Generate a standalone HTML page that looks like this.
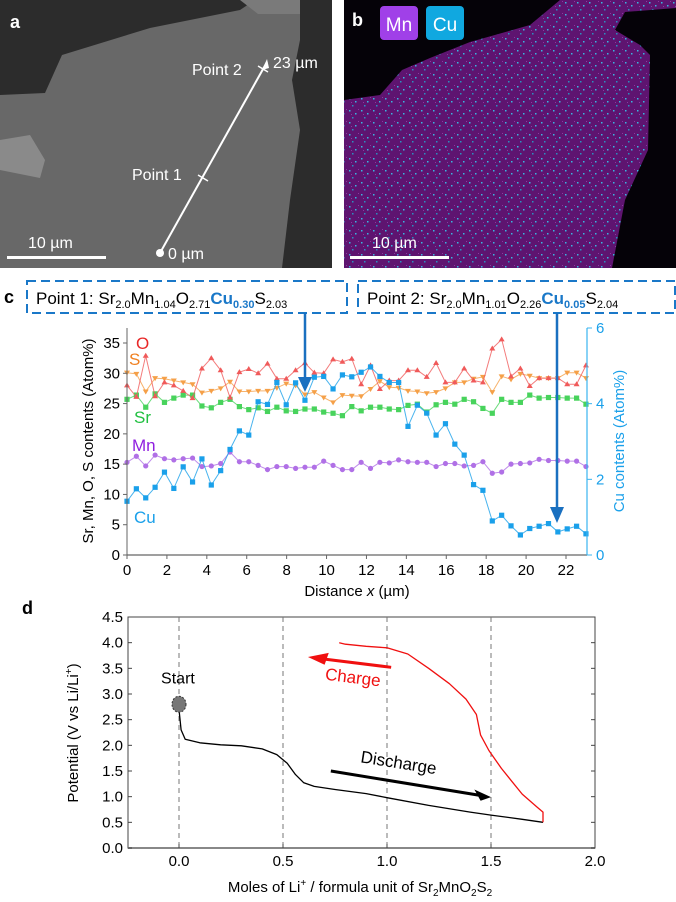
<!DOCTYPE html>
<html><head><meta charset="utf-8">
<style>
html,body{margin:0;padding:0;background:#fff;}
body{width:676px;height:902px;position:relative;overflow:hidden;font-family:"Liberation Sans",sans-serif;}
svg{position:absolute;left:0;top:0;}
</style></head>
<body>
<svg id="fig" width="676" height="902" viewBox="0 0 676 902" xmlns="http://www.w3.org/2000/svg">
<defs>
<pattern id="speck" width="12" height="12" patternUnits="userSpaceOnUse">
<rect width="12" height="12" fill="#5e1470"/>
<rect x="1" y="2" width="1.5" height="1.5" fill="#3ab6e0"/>
<rect x="7" y="5" width="1.5" height="1.5" fill="#3ab6e0"/>
<rect x="4" y="9" width="1.5" height="1.5" fill="#2a90c0"/>
<rect x="10" y="1" width="1" height="1" fill="#8a3aa0"/>
<rect x="3" y="6" width="1" height="1" fill="#8a3aa0"/>
</pattern>
</defs>
<!-- Panel a -->
<g>
<rect x="0" y="0" width="332" height="268" fill="#2c2c2c"/>
<polygon points="0,95 45,93 62,55 150,28 240,10 255,0 300,0 300,40 292,80 300,130 290,200 282,268 0,268" fill="#686868"/>
<polygon points="0,140 30,135 45,160 40,178 0,170" fill="#8a8a8a"/>
<polygon points="240,0 300,0 300,14 258,14" fill="#7a7a7a"/>
<line x1="160" y1="253" x2="267" y2="62" stroke="#fff" stroke-width="2"/>
<polygon points="267,59 262,70 269,68" fill="#fff"/>
<circle cx="160" cy="253" r="4" fill="#fff"/>
<line x1="198" y1="175" x2="208" y2="181" stroke="#fff" stroke-width="1.5"/>
<line x1="258" y1="66" x2="268" y2="72" stroke="#fff" stroke-width="1.5"/>
<text x="10" y="28" font-size="18" font-weight="bold" fill="#fff">a</text>
<text x="192" y="75" font-size="16" fill="#fff">Point 2</text>
<text x="273" y="68" font-size="16" fill="#fff">23 µm</text>
<text x="132" y="180" font-size="16" fill="#fff">Point 1</text>
<text x="168" y="259" font-size="16" fill="#fff">0 µm</text>
<text x="28" y="248" font-size="16" fill="#fff">10 µm</text>
<rect x="7" y="256" width="99" height="3" fill="#fff"/>
</g>
<!-- Panel b -->
<g>
<rect x="344" y="0" width="332" height="268" fill="#050208"/>
<polygon points="344,100 380,95 402,70 430,58 470,42 530,25 560,0 676,0 676,8 625,12 615,30 640,45 650,55 648,150 625,200 612,268 344,268" fill="url(#speck)"/>
<text x="352" y="26" font-size="18" font-weight="bold" fill="#fff">b</text>
<rect x="380" y="6" width="38" height="34" rx="4" fill="#a040e8"/>
<text x="399" y="31" font-size="19" fill="#fff" text-anchor="middle">Mn</text>
<rect x="426" y="6" width="38" height="34" rx="4" fill="#10a8e0"/>
<text x="445" y="31" font-size="19" fill="#fff" text-anchor="middle">Cu</text>
<text x="372" y="248" font-size="16" fill="#fff">10 µm</text>
<rect x="350" y="256" width="99" height="3" fill="#fff"/>
</g>
<!-- Panel c header -->
<text x="4" y="303" font-size="18" font-weight="bold" fill="#000">c</text>
<rect x="27" y="281" width="320" height="32" fill="none" stroke="#1a78c8" stroke-width="2" stroke-dasharray="9,5"/>
<text x="36" y="304" font-size="17" fill="#000">Point 1: Sr<tspan font-size="11" dy="4">2.0</tspan><tspan dy="-4">Mn</tspan><tspan font-size="11" dy="4">1.04</tspan><tspan dy="-4">O</tspan><tspan font-size="11" dy="4">2.71</tspan><tspan dy="-4" fill="#1a78c8" font-weight="bold">Cu</tspan><tspan font-size="11" dy="4" fill="#1a78c8" font-weight="bold">0.30</tspan><tspan dy="-4">S</tspan><tspan font-size="11" dy="4">2.03</tspan></text>
<rect x="358" y="281" width="317" height="32" fill="none" stroke="#1a78c8" stroke-width="2" stroke-dasharray="9,5"/>
<text x="367" y="304" font-size="17" fill="#000">Point 2: Sr<tspan font-size="11" dy="4">2.0</tspan><tspan dy="-4">Mn</tspan><tspan font-size="11" dy="4">1.01</tspan><tspan dy="-4">O</tspan><tspan font-size="11" dy="4">2.26</tspan><tspan dy="-4" fill="#1a78c8" font-weight="bold">Cu</tspan><tspan font-size="11" dy="4" fill="#1a78c8" font-weight="bold">0.05</tspan><tspan dy="-4">S</tspan><tspan font-size="11" dy="4">2.04</tspan></text>
<g id="chartC"></g>
<g id="chartD"></g>
</svg>
<script>
const NS='http://www.w3.org/2000/svg';
const xStepC=23/49;
const oVals=[28.0,26.1,32.9,26.2,28.5,28.0,27.1,25.9,30.8,32.5,30.5,26.0,30.2,30.7,30.0,31.6,29.1,29.1,30.5,31.7,30.1,30.0,32.3,31.9,32.4,28.2,31.3,27.4,28.8,28.8,30.5,30.5,29.4,31.7,28.5,28.5,30.8,28.8,28.5,34.1,35.6,29.5,30.8,27.9,29.2,29.2,29.2,28.2,28.2,31.3];
const sVals=[30.1,29.9,27.0,29.2,29.1,28.8,28.5,28.2,26.8,27.1,27.5,28.6,27.0,27.0,27.1,27.1,27.6,28.3,28.0,26.5,26.9,26.0,25.2,26.4,26.3,26.2,27.4,28.7,27.7,27.6,27.1,27.0,26.7,26.9,27.5,28.5,28.5,29.1,29.4,26.9,29.5,29.0,29.9,29.6,29.2,29.2,29.2,30.1,30.1,29.2];
const srVals=[25.7,26.4,24.4,26.6,25.2,25.9,26.4,26.4,24.6,24.3,25.2,25.7,24.5,24.0,24.3,23.7,24.4,23.8,23.7,24.1,24.1,23.6,23.4,23.0,24.5,23.8,24.4,24.4,24.1,24.0,24.7,24.9,23.6,24.8,25.2,24.9,25.7,25.3,24.2,23.4,25.7,25.2,25.2,26.4,25.9,26.0,26.0,25.9,25.9,24.9];
const mnVals=[15.3,16.3,14.7,16.5,15.9,15.7,15.9,16.0,14.6,14.7,15.1,17.0,15.4,15.4,14.8,14.1,14.6,14.6,14.3,14.5,14.5,15.5,14.8,14.1,14.1,15.3,14.3,15.3,15.2,15.7,15.4,15.3,15.3,14.6,15.1,15.1,14.7,14.8,15.4,13.5,13.7,15.0,15.1,15.2,15.8,15.6,15.6,15.5,15.5,14.6];
const cuVals=[1.42,1.75,1.51,1.79,2.19,1.76,2.33,1.93,2.54,1.85,2.23,2.79,3.28,3.17,4.05,3.98,4.56,3.97,4.55,4.09,4.70,4.72,4.39,4.76,4.71,4.83,4.97,4.72,4.56,4.56,3.40,3.96,3.75,3.17,3.47,2.93,2.64,1.86,1.71,0.90,1.05,0.77,0.53,0.70,0.76,0.83,0.61,0.69,0.76,0.56];
const xTicksC=[0,2,4,6,8,10,12,14,16,18,20,22];
const yTicksC=[0,5,10,15,20,25,30,35];
const cuTicks=[0,2,4,6];
const dischargeX=[0,0.01,0.03,0.1,0.2,0.3,0.4,0.47,0.52,0.56,0.6,0.65,0.75,0.9,1.0,1.2,1.4,1.5,1.65,1.75];
const dischargeV=[2.7,2.3,2.12,2.05,2.01,1.99,1.93,1.82,1.65,1.43,1.27,1.2,1.14,1.06,0.98,0.83,0.7,0.64,0.56,0.5];
const chargeX=[1.75,1.75,1.72,1.65,1.6,1.55,1.49,1.45,1.43,1.38,1.3,1.2,1.1,1.0,0.9,0.8,0.77];
const chargeV=[0.5,0.7,0.8,1.05,1.3,1.55,1.9,2.2,2.6,2.9,3.2,3.5,3.78,3.9,3.93,3.97,4.0];
const xTicksD=[0,0.5,1.0,1.5,2.0];
const yTicksD=[0,0.5,1.0,1.5,2.0,2.5,3.0,3.5,4.0,4.5];

function el(tag,attrs,parent,text){const e=document.createElementNS(NS,tag);for(const k in attrs)e.setAttribute(k,attrs[k]);if(text!==undefined)e.textContent=text;parent.appendChild(e);return e;}

// ---- Chart C ----
const gC=document.getElementById('chartC');
const cx=v=>127+v*(566-127)/22;
const cy=v=>555-v*(555-343)/35;
const cyCu=v=>555-v*(555-328)/6;
function series(vals,yf,color,marker,name){
  const g=el('g',{},gC);
  
  
  const pts=vals.map((v,i)=>cx(i*xStepC).toFixed(1)+','+yf(v).toFixed(1)).join(' ');
  el('polyline',{points:pts,fill:'none',stroke:color,'stroke-width':1,opacity:0.8},g);
  vals.forEach((v,i)=>{
    const x=cx(i*xStepC),y=yf(v);let m;
    if(marker==='up')m=el('polygon',{points:`${x},${y-3} ${x-3},${y+2} ${x+3},${y+2}`,fill:color},g);
    else if(marker==='down')m=el('polygon',{points:`${x},${y+3} ${x-3},${y-2} ${x+3},${y-2}`,fill:color},g);
    else if(marker==='circle')m=el('circle',{cx:x,cy:y,r:2.6,fill:color},g);
    else m=el('rect',{x:x-2.6,y:y-2.6,width:5.2,height:5.2,fill:color},g);
    
    
  });
}
series(mnVals,cy,'#b070e6','circle','mn-series');
series(srVals,cy,'#48d35c','square','sr-series');
series(sVals,cy,'#f5a048','down','s-series');
series(oVals,cy,'#f05a5a','up','o-series');
series(cuVals,cyCu,'#1aa0ea','square','cu-series');
el('line',{x1:127,y1:328,x2:127,y2:555,stroke:'#666','stroke-width':1},gC);
el('line',{x1:127,y1:555,x2:587,y2:555,stroke:'#666','stroke-width':1.2},gC);
el('line',{x1:587,y1:328,x2:587,y2:555,stroke:'#39b4f0','stroke-width':1.2},gC);
xTicksC.forEach(t=>{el('line',{x1:cx(t),y1:555,x2:cx(t),y2:559,stroke:'#666'},gC);
  const tx=el('text',{x:cx(t),y:575,'font-size':15,'text-anchor':'middle',fill:'#000'},gC,String(t));
  });
yTicksC.forEach(t=>{el('line',{x1:123,y1:cy(t),x2:127,y2:cy(t),stroke:'#666'},gC);
  const tx=el('text',{x:120,y:cy(t)+5,'font-size':15,'text-anchor':'end',fill:'#000'},gC,String(t));
  });
cuTicks.forEach(t=>{el('line',{x1:587,y1:cyCu(t),x2:592,y2:cyCu(t),stroke:'#39b4f0'},gC);
  const tx=el('text',{x:596,y:cyCu(t)+5,'font-size':15,fill:'#1aa0ea'},gC,String(t));
  });
[['O',136,349,'#e82828'],['S',129,365,'#f08020'],['Sr',134,423,'#20c040'],['Mn',132,451,'#9020e0'],['Cu',134,523,'#1aa0ea']].forEach(a=>{
  const t=el('text',{x:a[1],y:a[2],'font-size':17,fill:a[3]},gC,a[0]);
  });
let t=el('text',{x:357,y:596,'font-size':15,'text-anchor':'middle',fill:'#000'},gC);
t.innerHTML='Distance <tspan font-style="italic">x</tspan> (µm)';

t=el('text',{transform:'translate(93,441) rotate(-90)','font-size':15,'text-anchor':'middle',fill:'#000'},gC,'Sr, Mn, O, S contents (Atom%)');

t=el('text',{transform:'translate(624,441) rotate(-90)','font-size':15,'text-anchor':'middle',fill:'#1aa0ea'},gC,'Cu contents (Atom%)');

el('line',{x1:305,y1:313,x2:305,y2:378,stroke:'#1a70c0','stroke-width':2.5},gC);
el('polygon',{points:'298,377 312,377 305,392',fill:'#1a70c0'},gC);
el('line',{x1:557,y1:313,x2:557,y2:508,stroke:'#1a70c0','stroke-width':2.5},gC);
el('polygon',{points:'550,507 564,507 557,523',fill:'#1a70c0'},gC);

// ---- Chart D ----
const gD=document.getElementById('chartD');
const dx=v=>179+v*(595-179)/2;
const dy=v=>848-v*(848-617)/4.5;
t=el('text',{x:22,y:614,'font-size':18,'font-weight':'bold',fill:'#000'},gD,'d');

el('rect',{x:128,y:617,width:467,height:231,fill:'none',stroke:'#444','stroke-width':1},gD);
el('line',{x1:128,y1:848,x2:595,y2:848,stroke:'#888','stroke-width':2},gD);
[0,0.5,1.0,1.5].forEach(v=>{const l=el('line',{x1:dx(v),y1:617,x2:dx(v),y2:848,stroke:'#777','stroke-width':1,'stroke-dasharray':'5,4'},gD);
  });
xTicksD.forEach(v=>{el('line',{x1:dx(v),y1:848,x2:dx(v),y2:844,stroke:'#444'},gD);
  const tx=el('text',{x:dx(v),y:866,'font-size':15,'text-anchor':'middle',fill:'#000'},gD,v.toFixed(1));
  });
yTicksD.forEach(v=>{el('line',{x1:128,y1:dy(v),x2:132,y2:dy(v),stroke:'#444'},gD);
  el('line',{x1:595,y1:dy(v),x2:591,y2:dy(v),stroke:'#444'},gD);
  const tx=el('text',{x:123,y:dy(v)+5,'font-size':15,'text-anchor':'end',fill:'#000'},gD,v.toFixed(1));
  });
let p=el('polyline',{points:dischargeX.map((x,i)=>dx(x).toFixed(1)+','+dy(dischargeV[i]).toFixed(1)).join(' '),fill:'none',stroke:'#000','stroke-width':1.3,'stroke-linejoin':'round'},gD);

p=el('polyline',{points:chargeX.map((x,i)=>dx(x).toFixed(1)+','+dy(chargeV[i]).toFixed(1)).join(' '),fill:'none',stroke:'#f01010','stroke-width':1.3,'stroke-linejoin':'round'},gD);

p=el('ellipse',{cx:dx(0),cy:dy(2.8),rx:7,ry:8,fill:'#777',stroke:'#333','stroke-width':1,'stroke-dasharray':'2,1.5'},gD);

t=el('text',{x:dx(-0.005),y:dy(3.2),'font-size':16,'text-anchor':'middle',fill:'#000'},gD,'Start');

el('line',{x1:dx(1.02),y1:dy(3.52),x2:dx(0.7),y2:dy(3.68),stroke:'#f01010','stroke-width':3},gD);
el('polygon',{points:`${dx(0.62)},${dy(3.72)} ${dx(0.72)},${dy(3.8)} ${dx(0.7)},${dy(3.57)}`,fill:'#f01010'},gD);
t=el('text',{x:0,y:0,'font-size':17,fill:'#f01010',transform:`translate(${dx(0.7)},${dy(3.28)}) rotate(7)`},gD,'Charge');

el('line',{x1:dx(0.73),y1:dy(1.5),x2:dx(1.44),y2:dy(1.03),stroke:'#000','stroke-width':3},gD);
el('polygon',{points:`${dx(1.5)},${dy(0.99)} ${dx(1.42)},${dy(1.14)} ${dx(1.45)},${dy(0.92)}`,fill:'#000'},gD);
t=el('text',{x:0,y:0,'font-size':17,fill:'#000',transform:`translate(${dx(0.87)},${dy(1.67)}) rotate(9)`},gD,'Discharge');

t=el('text',{x:360,y:892,'font-size':15,'text-anchor':'middle',fill:'#000'},gD);
t.innerHTML='Moles of Li<tspan font-size="10" dy="-6">+</tspan><tspan dy="6"> / formula unit of Sr</tspan><tspan font-size="10" dy="4">2</tspan><tspan dy="-4">MnO</tspan><tspan font-size="10" dy="4">2</tspan><tspan dy="-4">S</tspan><tspan font-size="10" dy="4">2</tspan>';

t=el('text',{transform:'translate(78,733) rotate(-90)','font-size':15,'text-anchor':'middle',fill:'#000'},gD);
t.innerHTML='Potential (V vs Li/Li<tspan font-size="10" dy="-6">+</tspan><tspan dy="6">)</tspan>';

</script>
</body></html>
